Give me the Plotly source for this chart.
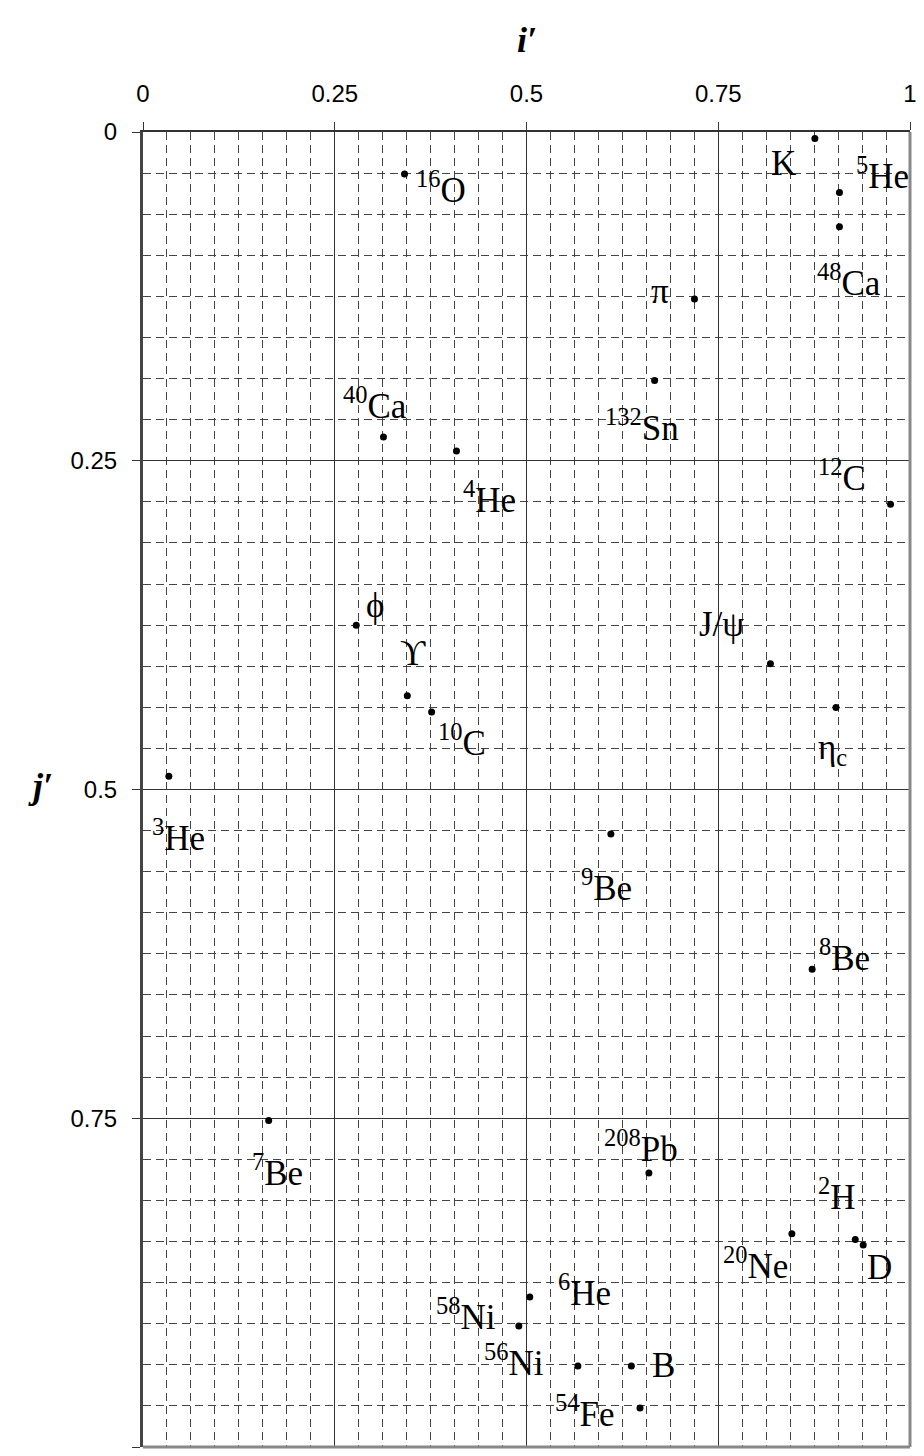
import plotly.graph_objects as go

# point names (as rich text) and their (i', j') coordinates
names = [
    "K", "<sup>5</sup>He", "<sup>48</sup>Ca", "<sup>16</sup>O", "π",
    "<sup>132</sup>Sn", "<sup>40</sup>Ca", "<sup>4</sup>He", "<sup>12</sup>C",
    "ϕ", "ϒ", "<sup>10</sup>C", "J/ψ", "η<sub>c</sub>", "<sup>3</sup>He",
    "<sup>9</sup>Be", "<sup>8</sup>Be", "<sup>7</sup>Be", "<sup>208</sup>Pb",
    "<sup>20</sup>Ne", "<sup>2</sup>H", "D", "<sup>6</sup>He",
    "<sup>58</sup>Ni", "<sup>56</sup>Ni", "B", "<sup>54</sup>Fe",
]
i_prime = [
    0.876, 0.908, 0.908, 0.341, 0.719,
    0.667, 0.3135, 0.4087, 0.9746,
    0.278, 0.3446, 0.3763, 0.818, 0.9035, 0.0337,
    0.610, 0.8724, 0.1639, 0.6596,
    0.846, 0.9286, 0.939, 0.5043,
    0.490, 0.567, 0.6367, 0.648,
]
j_prime = [
    0.005, 0.046, 0.072, 0.032, 0.127,
    0.189, 0.232, 0.2426, 0.283,
    0.375, 0.4287, 0.4411, 0.4044, 0.4376, 0.4899,
    0.5338, 0.6367, 0.7518, 0.7916,
    0.8378, 0.8423, 0.8464, 0.886,
    0.908, 0.9384, 0.9384, 0.9703,
]

tick_values = [0, 0.25, 0.5, 0.75, 1]
tick_labels = ["0", "0.25", "0.5", "0.75", "1"]

# label placement relative to its dot, in screen pixels (right, down)
label_offsets = [
    (-31, 25), (43, -19), (10, 54), (36, 13), (-34, -8),
    (-13, 45), (-8, -34), (33, 46), (-49, -29),
    (19, -20), (6, -42), (30, 28), (-49, -39), (-3, 42), (10, 59),
    (-4, 52), (32, -14), (9, 50), (-8, -26),
    (-36, 30), (-18, -45), (16, 22), (55, -7),
    (-53, -12), (-64, -6), (32, -1), (-55, 4),
]

SERIF = "Liberation Serif, Times New Roman, serif"
SANS = "Liberation Sans, Arial, sans-serif"

fig = go.Figure(
    go.Scatter(
        x=i_prime,
        y=j_prime,
        mode="markers",
        marker=dict(color="black", size=7),
        hoverinfo="skip",
    )
)

annotations = []
for name, x, y, (dx, dy) in zip(names, i_prime, j_prime, label_offsets):
    annotations.append(
        dict(
            x=x, y=y, xref="x", yref="y",
            text=name, showarrow=False,
            xanchor="center", yanchor="middle",
            xshift=dx, yshift=-dy,
            font=dict(family=SERIF, size=35, color="black"),
        )
    )

# axis titles, kept upright
annotations.append(
    dict(x=0.5, y=1, xref="paper", yref="paper", text="<b><i>i′</i></b>",
         showarrow=False, yanchor="middle", yshift=92,
         font=dict(family=SERIF, size=36, color="black"))
)
annotations.append(
    dict(x=0, y=0.5, xref="paper", yref="paper", text="<b><i>j′</i></b>",
         showarrow=False, xanchor="center", xshift=-103, yshift=4,
         font=dict(family=SERIF, size=36, color="black"))
)

grid_minor = dict(
    dtick=0.03125, showgrid=True, gridcolor="#444", gridwidth=1,
    griddash="8px,5px", ticks="",
)

fig.update_layout(
    width=924,
    height=1456,
    margin=dict(l=143, r=7, t=132, b=9),
    paper_bgcolor="white",
    plot_bgcolor="white",
    showlegend=False,
    annotations=annotations,
    xaxis=dict(
        side="top", range=[0, 1], tickvals=tick_values, ticktext=tick_labels,
        showgrid=True, gridcolor="#333", gridwidth=1, zeroline=False,
        showline=True, linecolor="#333", linewidth=2,
        ticks="outside", ticklen=8, tickcolor="#333",
        ticklabelstandoff=10,
        tickfont=dict(family=SANS, size=24, color="black"),
        minor=grid_minor,
    ),
    yaxis=dict(
        range=[1, 0], tickvals=tick_values, ticktext=tick_labels,
        showgrid=True, gridcolor="#333", gridwidth=1, zeroline=False,
        showline=True, linecolor="#444", linewidth=3,
        ticks="outside", ticklen=8, tickcolor="#333",
        ticklabelstandoff=10,
        tickfont=dict(family=SANS, size=24, color="black"),
        minor=grid_minor,
    ),
    shapes=[
        dict(type="line", xref="paper", yref="paper", x0=1, x1=1, y0=0, y1=1,
             line=dict(color="#888", width=3)),
        dict(type="line", xref="paper", yref="paper", x0=0, x1=1, y0=0, y1=0,
             line=dict(color="#888", width=3)),
    ],
)

# drop the browser's default 8px body margin so the figure fills the window
fig.write_html(
    "out.html",
    config={"displayModeBar": False},
    post_script="document.body.style.margin = '0';",
)
